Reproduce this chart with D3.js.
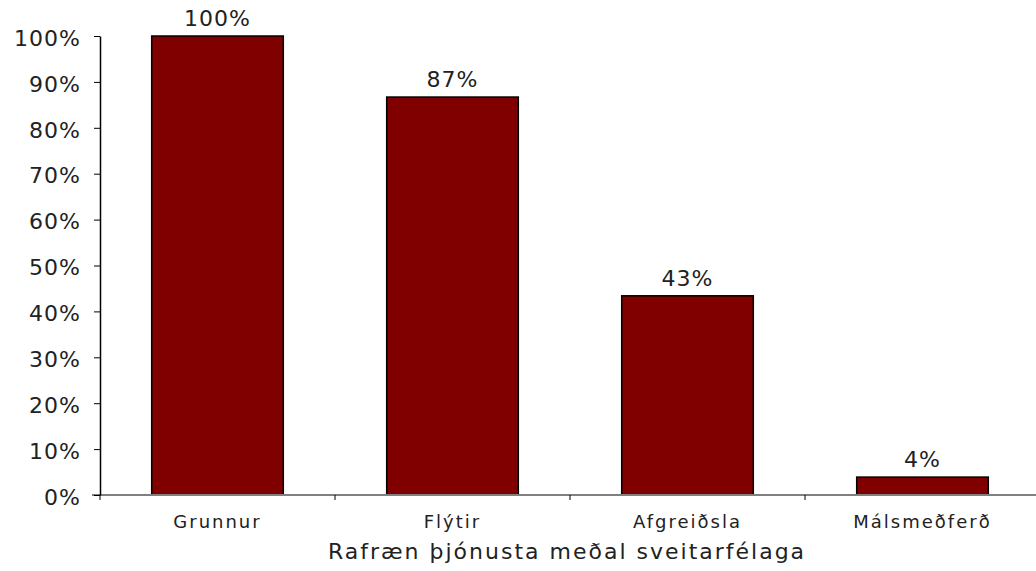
<!DOCTYPE html>
<html>
<head>
<meta charset="utf-8">
<script src="https://cdn.jsdelivr.net/npm/d3@7.9.0/dist/d3.min.js"></script>
<style>
  body { margin: 0; background: #fff; }
  svg { display: block; font-family: 'DejaVu Sans', Verdana, sans-serif; }
</style>
</head>
<body>
<svg id="chart" width="1036" height="571"></svg>
<script>
const categories = ['Grunnur', 'Flýtir', 'Afgreiðsla', 'Málsmeðferð'];
const values = [1.0, 0.867, 0.434, 0.039];
const yTicks = [0, 0.1, 0.2, 0.3, 0.4, 0.5, 0.6, 0.7, 0.8, 0.9, 1.0];
const xTitle = 'Rafræn þjónusta meðal sveitarfélaga';

const svg = d3.select('#chart');
const margin = { top: 36, right: -4, bottom: 76, left: 100 };
const width = 1036 - margin.left - margin.right;
const height = 571 - margin.top - margin.bottom;

const g = svg.append('g').attr('transform', `translate(${margin.left},${margin.top})`);

const x = d3.scaleBand().domain(categories).range([0, width]).paddingInner(0.44).paddingOuter(0.22);
const y = d3.scaleLinear().domain([0, 1]).range([height, 0]);
const pct = d3.format('.0%');

// bars
g.selectAll('rect.bar')
  .data(values)
  .join('rect')
  .attr('class', 'bar')
  .attr('x', (d, i) => x(categories[i]))
  .attr('y', (d) => y(d))
  .attr('width', x.bandwidth())
  .attr('height', (d) => height - y(d))
  .attr('fill', '#800000')
  .attr('stroke', '#000')
  .attr('stroke-width', 1.5);

// value labels
g.selectAll('text.val')
  .data(values)
  .join('text')
  .attr('class', 'val')
  .attr('x', (d, i) => x(categories[i]) + x.bandwidth() / 2)
  .attr('y', (d) => y(d) - 10)
  .attr('text-anchor', 'middle')
  .attr('font-size', 22)
  .attr('letter-spacing', 1)
  .attr('fill', '#222')
  .text((d) => pct(d));

// x axis (gray line, ticks at band boundaries)
const xAxis = g.append('g').attr('transform', `translate(0,${height})`);
xAxis.append('line')
  .attr('x1', -8).attr('x2', width)
  .attr('stroke', '#808080').attr('stroke-width', 2);
const step = x.step();
const bounds = d3.range(categories.length + 1).map((i) => i * step);
xAxis.selectAll('line.tick')
  .data(bounds)
  .join('line')
  .attr('class', 'tick')
  .attr('x1', (d) => d).attr('x2', (d) => d)
  .attr('y1', 0).attr('y2', 5)
  .attr('stroke', '#000').attr('stroke-width', 1);
xAxis.selectAll('text')
  .data(categories)
  .join('text')
  .attr('x', (d) => x(d) + x.bandwidth() / 2)
  .attr('y', 33)
  .attr('text-anchor', 'middle')
  .attr('font-size', 18)
  .attr('letter-spacing', 2)
  .attr('fill', '#222')
  .text((d) => d);

// y axis
const yAxis = g.append('g').call(
  d3.axisLeft(y).tickValues(yTicks).tickFormat(pct).tickSize(6).tickSizeOuter(0)
);
yAxis.select('.domain').attr('stroke', '#000').attr('stroke-width', 1.5);
yAxis.selectAll('.tick line').attr('stroke', '#000');
yAxis.selectAll('.tick text')
  .attr('font-size', 22)
  .attr('letter-spacing', 1)
  .attr('font-family', "'DejaVu Sans', Verdana, sans-serif")
  .attr('fill', '#222')
  .attr('x', -19)
  .attr('dy', '0.42em');

// axis title
g.append('text')
  .attr('x', width / 2 - 3)
  .attr('y', height + 64)
  .attr('text-anchor', 'middle')
  .attr('font-size', 22)
  .attr('letter-spacing', 2)
  .attr('fill', '#222')
  .text(xTitle);
</script>
</body>
</html>
